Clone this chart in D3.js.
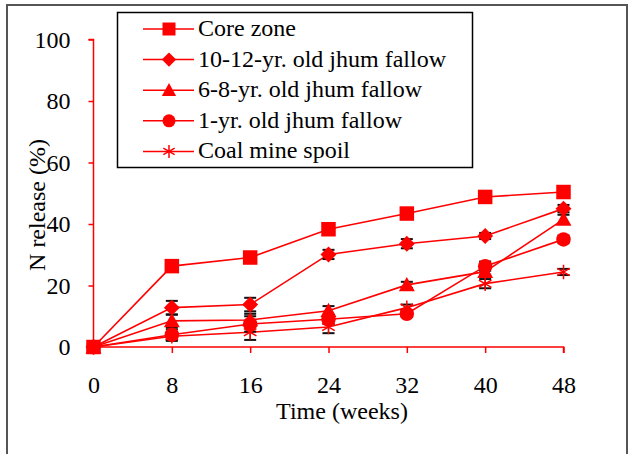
<!DOCTYPE html>
<html><head><meta charset="utf-8">
<script src="https://cdn.jsdelivr.net/npm/d3@7"></script>
<style>html,body{margin:0;padding:0;background:#fff;}svg{display:block;} text{font-family:"Liberation Serif","Times New Roman","DejaVu Serif",serif;}</style>
</head><body>
<svg id="c" width="630" height="454"></svg>
<script>
const weeks = [0, 8, 16, 24, 32, 40, 48];
const seriesNames = ["Core zone", "10-12-yr. old jhum fallow", "6-8-yr. old jhum fallow", "1-yr. old jhum fallow", "Coal mine spoil"];
const coreZone   = [0, 26.3, 29.1, 38.3, 43.4, 48.8, 50.4];
const fallow1012 = [0, 12.8, 13.8, 30.1, 33.6, 36.1, 45.0];
const fallow68   = [0, 8.5, 8.8, 11.8, 20.2, 24.5, 41.5];
const fallow1    = [0, 4.0, 7.5, 9.0, 10.8, 26.3, 35.0];
const coalSpoil  = [0, 3.5, 4.8, 6.5, 12.8, 20.6, 24.4];
const errCore    = [0, 0.5, 0.5, 0.9, 0.5, 0.5, 0.5];
const err1012    = [0, 2.2, 2.2, 1.5, 1.5, 1.0, 1.2];
const err68      = [0, 2.0, 2.0, 1.5, 1.0, 1.0, 1.5];
const err1       = [0, 1.8, 2.5, 1.5, 1.0, 1.5, 1.2];
const errCoal    = [0, 1.5, 2.5, 2.0, 1.0, 1.5, 1.0];
const yTicks = [0, 20, 40, 60, 80, 100];
const xTicks = [0, 8, 16, 24, 32, 40, 48];

const series = [
  {name: seriesNames[0], values: coreZone, err: errCore, sym: "square"},
  {name: seriesNames[1], values: fallow1012, err: err1012, sym: "diamond"},
  {name: seriesNames[2], values: fallow68, err: err68, sym: "triangle"},
  {name: seriesNames[3], values: fallow1, err: err1, sym: "circle"},
  {name: seriesNames[4], values: coalSpoil, err: errCoal, sym: "star"}
];

const RED = "#ff0000";
const FS = 24;
const svg = d3.select("#c");

// outer frame
svg.append("rect").attr("x", 7).attr("y", 5).attr("width", 620).attr("height", 460)
  .attr("fill", "none").attr("stroke", "#555").attr("stroke-width", 2);

const x = d3.scaleLinear().domain([0, 48]).range([93.5, 563.5]);
const y = d3.scaleLinear().domain([0, 100]).range([347, 39.5]);

// axes
const yAxis = svg.append("g").attr("transform", "translate(93.5,0)")
  .call(d3.axisLeft(y).tickValues(yTicks).tickSize(5).tickFormat(d3.format("d")));
const xAxis = svg.append("g").attr("transform", "translate(0,347)")
  .call(d3.axisBottom(x).tickValues(xTicks).tickSize(6).tickFormat(d3.format("d")));
[yAxis, xAxis].forEach(g => {
  g.attr("font-family", null).attr("font-size", null);
  g.select(".domain").attr("stroke", RED).attr("stroke-width", 1.5);
  g.selectAll(".tick line").attr("stroke", RED).attr("stroke-width", 1.5);
  g.selectAll(".tick text").attr("fill", "#000").style("font-size", FS + "px");
});
yAxis.select(".domain").attr("d", `M-5,${y(100)}H0V${y(0)}`);
xAxis.select(".domain").attr("d", `M${x(0)},0H${x(48)}V6`);
yAxis.selectAll(".tick text").attr("x", -23).attr("dy", "0.33em");
xAxis.selectAll(".tick text").attr("y", 29).attr("dy", "0.71em");

// axis titles
svg.append("text").attr("x", 342).attr("y", 419).attr("text-anchor", "middle")
  .style("font-size", FS + "px").attr("fill", "#000").text("Time (weeks)");
svg.append("text").attr("transform", "translate(45,205) rotate(-90)").attr("text-anchor", "middle")
  .style("font-size", FS + "px").attr("fill", "#000").text("N release (%)");

function drawSymbol(g, sym, cx, cy, s) {
  if (sym === "square") {
    g.append("rect").attr("x", cx - s/2).attr("y", cy - s/2).attr("width", s).attr("height", s).attr("fill", RED);
  } else if (sym === "diamond") {
    const h = s * 0.55;
    g.append("path").attr("d", `M${cx},${cy-h}L${cx+h},${cy}L${cx},${cy+h}L${cx-h},${cy}Z`).attr("fill", RED);
  } else if (sym === "triangle") {
    const h = s * 0.55;
    g.append("path").attr("d", `M${cx},${cy-h}L${cx+h},${cy+h*0.8}L${cx-h},${cy+h*0.8}Z`).attr("fill", RED);
  } else if (sym === "circle") {
    g.append("circle").attr("cx", cx).attr("cy", cy).attr("r", s * 0.5).attr("fill", RED);
  } else if (sym === "star") {
    const r = s * 0.5;
    let d = "";
    for (let i = 0; i < 3; i++) {
      const a = Math.PI / 2 + i * Math.PI / 3;
      d += `M${cx + r*Math.cos(a)},${cy + r*Math.sin(a)}L${cx - r*Math.cos(a)},${cy - r*Math.sin(a)}`;
    }
    g.append("path").attr("d", d).attr("stroke", RED).attr("stroke-width", 1.5).attr("fill", "none");
  }
}

const line = d3.line().x((d, i) => x(weeks[i])).y(d => y(d));
const plot = svg.append("g");
series.forEach(s => {
  plot.append("path").datum(s.values).attr("d", line)
    .attr("fill", "none").attr("stroke", RED).attr("stroke-width", 1.6);
});
series.forEach(s => {
  const g = plot.append("g").attr("stroke", "#111").attr("stroke-width", 2);
  s.values.forEach((v, i) => {
    const e = s.err[i];
    if (!e) return;
    const cx = x(weeks[i]);
    g.append("line").attr("x1", cx).attr("x2", cx).attr("y1", y(v - e)).attr("y2", y(v + e)).attr("stroke-width", 1.2);
    g.append("line").attr("x1", cx - 6).attr("x2", cx + 6).attr("y1", y(v - e)).attr("y2", y(v - e));
    g.append("line").attr("x1", cx - 6).attr("x2", cx + 6).attr("y1", y(v + e)).attr("y2", y(v + e));
  });
});
series.forEach(s => {
  const g = plot.append("g");
  s.values.forEach((v, i) => drawSymbol(g, s.sym, x(weeks[i]), y(v), 14.5));
});

// legend
const lg = svg.append("g");
lg.append("rect").attr("x", 117.5).attr("y", 12.5).attr("width", 355).attr("height", 155)
  .attr("fill", "#fff").attr("stroke", "#000").attr("stroke-width", 1.5);
series.forEach((s, i) => {
  const cy = 29 + i * 30.6;
  lg.append("line").attr("x1", 143).attr("x2", 194).attr("y1", cy).attr("y2", cy)
    .attr("stroke", RED).attr("stroke-width", 1.5);
  drawSymbol(lg, s.sym, 169, cy, 13);
  lg.append("text").attr("x", 198).attr("y", cy + 7)
    .style("font-size", FS + "px").attr("fill", "#000").text(s.name);
});
</script>
</body></html>
